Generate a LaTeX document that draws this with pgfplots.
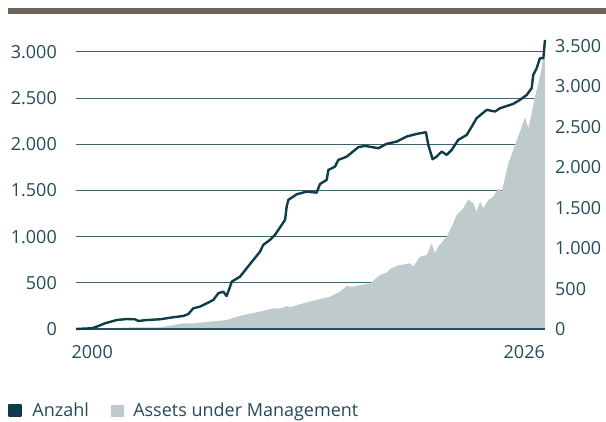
\documentclass[border=0pt]{standalone}
\usepackage{pgfplots}
\pgfplotsset{compat=1.18}
\usepackage{pgfplotstable}
\usepackage{fontspec}
\setmainfont{Open Sans}
\definecolor{anz}{HTML}{0E3C48}
\definecolor{aum}{HTML}{BFCACC}
\definecolor{txt}{HTML}{244B57}
\definecolor{grd}{HTML}{41636B}
\definecolor{axl}{HTML}{24505B}
\definecolor{topbar}{HTML}{6E645C}

\pgfplotstableread{
year val
2000.00 0
2000.87 8
2001.15 25
2001.61 62
2002.26 97
2002.81 108
2003.27 105
2003.45 87
2003.92 97
2004.66 105
2005.39 127
2005.95 141
2006.23 162
2006.50 224
2006.87 242
2007.25 278
2007.61 314
2007.89 387
2008.17 404
2008.35 357
2008.54 458
2008.63 512
2009.09 566
2009.46 657
2009.83 747
2010.20 837
2010.38 910
2010.75 964
2011.03 1018
2011.40 1126
2011.59 1181
2011.68 1325
2011.77 1397
2012.24 1459
2012.79 1487
2013.34 1476
2013.53 1570
2013.90 1614
2013.99 1722
2014.36 1758
2014.54 1830
2015.01 1866
2015.47 1939
2015.65 1968
2016.02 1982
2016.76 1957
2017.22 2004
2017.78 2029
2018.33 2083
2018.89 2112
2019.40 2130
2019.53 1993
2019.77 1838
2019.99 1866
2020.27 1920
2020.55 1885
2020.83 1939
2021.19 2047
2021.66 2101
2021.94 2191
2022.21 2282
2022.77 2372
2023.23 2354
2023.51 2390
2024.24 2437
2024.61 2480
2024.99 2534
2025.26 2607
2025.35 2751
2025.54 2824
2025.72 2932
2025.91 2932
2026.00 3130
}\anzahl

\pgfplotstableread{
year val
2000.00 0
2001.33 6
2002.99 19
2004.66 21
2005.95 70
2006.50 70
2008.35 111
2009.27 173
2010.20 214
2010.94 256
2011.40 256
2011.68 284
2011.86 268
2012.60 318
2013.34 359
2014.08 399
2014.63 461
2015.01 532
2015.37 523
2015.74 544
2016.30 565
2016.85 668
2017.22 696
2017.41 742
2017.78 779
2017.96 791
2018.52 813
2018.70 770
2019.07 894
2019.44 915
2019.72 1060
2019.90 936
2020.08 1018
2020.55 1141
2020.83 1265
2021.10 1410
2021.47 1493
2021.75 1604
2022.03 1555
2022.21 1451
2022.40 1574
2022.58 1493
2022.86 1595
2023.13 1636
2023.41 1740
2023.60 1698
2023.73 1822
2023.97 2049
2024.24 2214
2024.71 2502
2024.89 2618
2025.08 2482
2025.26 2668
2025.44 2873
2025.63 3039
2025.82 3228
2025.92 3413
2026.00 3327
}\aumdata

\pgfplotsset{
  base/.style={
    at={(76pt,93pt)}, anchor=south west,
    scale only axis, width=469pt, height=291pt,
    xmin=2000, xmax=2026, ymin=0,
    axis line style={draw=none},
    major tick length=0pt,
    tick label style={font=\fontsize{18}{20}\selectfont, text=txt},
    /pgf/number format/1000 sep={.},
    /pgf/number format/assume math mode=true,
  }
}

\begin{document}
\begin{tikzpicture}
\path[use as bounding box] (0pt,0pt) rectangle (606pt,422pt);
\fill[topbar] (8pt,408pt) rectangle (606pt,413.5pt);

% grid + left labels + x labels
\begin{axis}[base, ymax=3150,
  ytick={0,500,...,3000},
  ymajorgrids, grid style={grd, line width=1pt},
  xtick={2000.9,2024.85}, xticklabels={2000,2026},
  yticklabel style={anchor=east, inner sep=0pt, xshift=-19pt},
  xticklabel style={anchor=north, inner sep=0pt, yshift=-16pt}]
\end{axis}

% area on the right axis
\begin{axis}[base, ymax=3600,
  ytick={0,500,...,3500}, xtick=\empty,
  yticklabel pos=right,
  yticklabel style={anchor=west, inner sep=0pt, xshift=10pt}]
\addplot[fill=aum, draw=none] table[x=year, y=val]{\aumdata} \closedcycle;
\end{axis}

% line on the left axis
\begin{axis}[base, ymax=3150, xtick=\empty, ytick=\empty, clip=false,
  legend columns=2,
  legend style={at={(axis description cs:-0.145,-0.254)}, anchor=north west,
    draw=none, fill=none, inner sep=0pt, outer sep=0pt,
    font=\fontsize{18}{20}\selectfont, text=txt,
    nodes={inner sep=0pt},
    /tikz/every odd column/.append style={column sep=10pt},
    /tikz/every even column/.append style={column sep=22pt}},
  legend image code/.code={\fill[#1] (0pt,-5.5pt) rectangle (12pt,5.5pt);}]
\draw[axl, line width=2pt] (axis cs:2000,0) -- (axis cs:2026,0);
\addplot[anz, line width=2.4pt, line join=round] table[x=year, y=val]{\anzahl};
\addlegendentry{Anzahl}
\addlegendimage{aum}
\addlegendentry{Assets under Management}
\end{axis}
\end{tikzpicture}
\end{document}
